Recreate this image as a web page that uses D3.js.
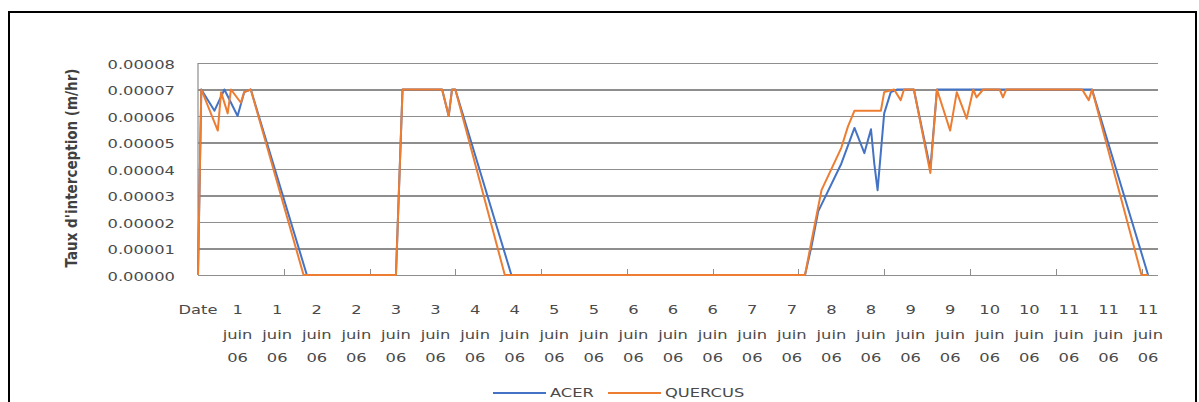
<!DOCTYPE html>
<meta charset="utf-8">
<head>
<style>
body { margin: 0; background: #fff; }
.grid line { stroke: #8e8e8e; stroke-width: 1.2; shape-rendering: crispEdges; }
.grid path { display: none; }
.lbl { font: 12px "DejaVu Sans"; fill: #4a4a4a; }
.series { fill: none; stroke-width: 2; stroke-linejoin: round; }
</style>
</head>
<body>
<script src="https://cdn.jsdelivr.net/npm/d3@7"></script>
<script>

// x labels: one every 12 points, tick marks every 26 points
var dayLabels = ["Date","1","1","2","2","3","3","4","4","5","5","6","6","6","7","7","8","8","9","9","10","10","11","11","11"];
var monthLabel = "juin";
var yearLabel = "06";
var yTicks = [0, 0.00001, 0.00002, 0.00003, 0.00004, 0.00005, 0.00006, 0.00007, 0.00008];
var seriesNames = ["ACER", "QUERCUS"];
var seriesColors = ["#4472C4", "#ED7D31"];

// [point index, interception rate] - vertices
var acer = [[0,0],[1,0.00007],[5,0.000062],[8,0.00007],[12,0.00006],[14,0.000069],[16,0.00007],
  [33,0],[60,0],[62,0.00007],[74,0.00007],[76,0.00006],[77,0.00007],[78,0.00007],[95,0],
  [184,0],[186,0.000011],[188,0.000024],[195,0.000042],[199,0.0000555],[202,0.000046],[204,0.000055],
  [205,0.000042],[206,0.000032],[208,0.000061],[210,0.000069],[212,0.00007],[217,0.00007],
  [222,0.00004],[224,0.00007],[271,0.00007],[288,0]];

var quercus = [[0,0],[1,0.00007],[6,0.0000545],[7,0.000069],[9,0.000061],[10,0.00007],[13,0.000065],
  [14,0.000069],[16,0.00007],[32,0],[60,0],[62,0.00007],[74,0.00007],[76,0.00006],[77,0.00007],
  [78,0.00007],[93,0],[184,0],[186,0.000013],[189,0.000032],[195,0.000048],[197,0.000056],
  [199,0.000062],[207,0.000062],[208,0.000069],[211,0.00007],[213,0.000066],[214,0.00007],
  [217,0.00007],[222,0.0000385],[224,0.00007],[228,0.0000545],[230,0.000069],[233,0.000059],
  [235,0.00007],[236,0.000067],[238,0.00007],[243,0.00007],[244,0.000067],[245,0.00007],
  [268,0.00007],[270,0.000066],[271,0.00007],[286,0],[288,0]];

var W = 1199, H = 402;
var plot = {left: 198, right: 1158, top: 63, bottom: 275};
var sx = 1.36; // text is drawn a bit wide, like the picture

var svg = d3.select("body").append("svg")
    .attr("width", W)
    .attr("height", H);

// outer frame
svg.append("rect")
    .attr("x", 9).attr("y", 12)
    .attr("width", 1187).attr("height", 420)
    .attr("fill", "none")
    .attr("stroke", "#000")
    .attr("stroke-width", 2);

var x = d3.scaleLinear().domain([0, 291]).range([plot.left, plot.right]);
var y = d3.scaleLinear().domain([0, 0.00008]).range([plot.bottom, plot.top]);

// horizontal gridlines + y labels
var yAxis = svg.append("g")
    .attr("class", "grid")
    .attr("transform", "translate(" + plot.left + ",0)")
    .call(d3.axisLeft(y)
        .tickValues(yTicks)
        .tickSize(-(plot.right - plot.left))
        .tickFormat(function(d) { return d.toFixed(5); }));

yAxis.selectAll("text")
    .attr("class", "lbl")
    .attr("x", 0)
    .attr("dy", "0.35em")
    .attr("transform", "translate(-23,1) scale(" + sx + ",1)")
    .style("text-anchor", "end");

// y axis line
svg.append("line")
    .attr("x1", plot.left).attr("x2", plot.left)
    .attr("y1", plot.top).attr("y2", plot.bottom)
    .attr("stroke", "#8e8e8e").attr("stroke-width", 1.2);

// x tick marks
var tickIdx = d3.range(0, 287, 26);
svg.selectAll(".xtick")
    .data(tickIdx)
    .enter().append("line")
    .attr("class", "xtick")
    .attr("x1", function(d) { return Math.round(x(d)) + 0.5; })
    .attr("x2", function(d) { return Math.round(x(d)) + 0.5; })
    .attr("y1", plot.bottom - 6)
    .attr("y2", plot.bottom)
    .attr("stroke", "#8e8e8e");

// x labels
var xl = svg.selectAll(".xl")
    .data(dayLabels)
    .enter().append("g")
    .attr("class", "xl")
    .attr("transform", function(d, i) { return "translate(" + x(i * 12) + ",0)"; });

xl.append("text")
    .attr("class", "lbl")
    .attr("text-anchor", "middle")
    .attr("transform", "translate(0,314) scale(" + sx + ",1)")
    .text(function(d) { return d; });

xl.filter(function(d, i) { return i > 0; }).append("text")
    .attr("class", "lbl")
    .attr("text-anchor", "middle")
    .attr("transform", "translate(0,339) scale(" + sx + ",1)")
    .text(monthLabel);

xl.filter(function(d, i) { return i > 0; }).append("text")
    .attr("class", "lbl")
    .attr("text-anchor", "middle")
    .attr("transform", "translate(0,362) scale(" + sx + ",1)")
    .text(yearLabel);

// y axis title
svg.append("text")
    .attr("transform", "translate(77,168) scale(1.2,1) rotate(-90)")
    .attr("text-anchor", "middle")
    .style("font", "bold 13.5px 'DejaVu Sans'")
    .attr("fill", "#404040")
    .text("Taux d'interception (m/hr)");

// lines
var line = d3.line()
    .x(function(d) { return x(d[0]); })
    .y(function(d) { return y(d[1]); });

[acer, quercus].forEach(function(s, i) {
    svg.append("path")
        .datum(s)
        .attr("class", "series")
        .attr("stroke", seriesColors[i])
        .attr("d", line);
});

// legend
var legendX = [493, 608];
seriesNames.forEach(function(name, i) {
    svg.append("line")
        .attr("x1", legendX[i]).attr("x2", legendX[i] + 53)
        .attr("y1", 393).attr("y2", 393)
        .attr("stroke", seriesColors[i])
        .attr("stroke-width", 2);
    svg.append("text")
        .attr("class", "lbl")
        .attr("transform", "translate(" + (legendX[i] + 57) + ",397) scale(" + sx + ",1)")
        .text(name);
});

</script>
</body>
